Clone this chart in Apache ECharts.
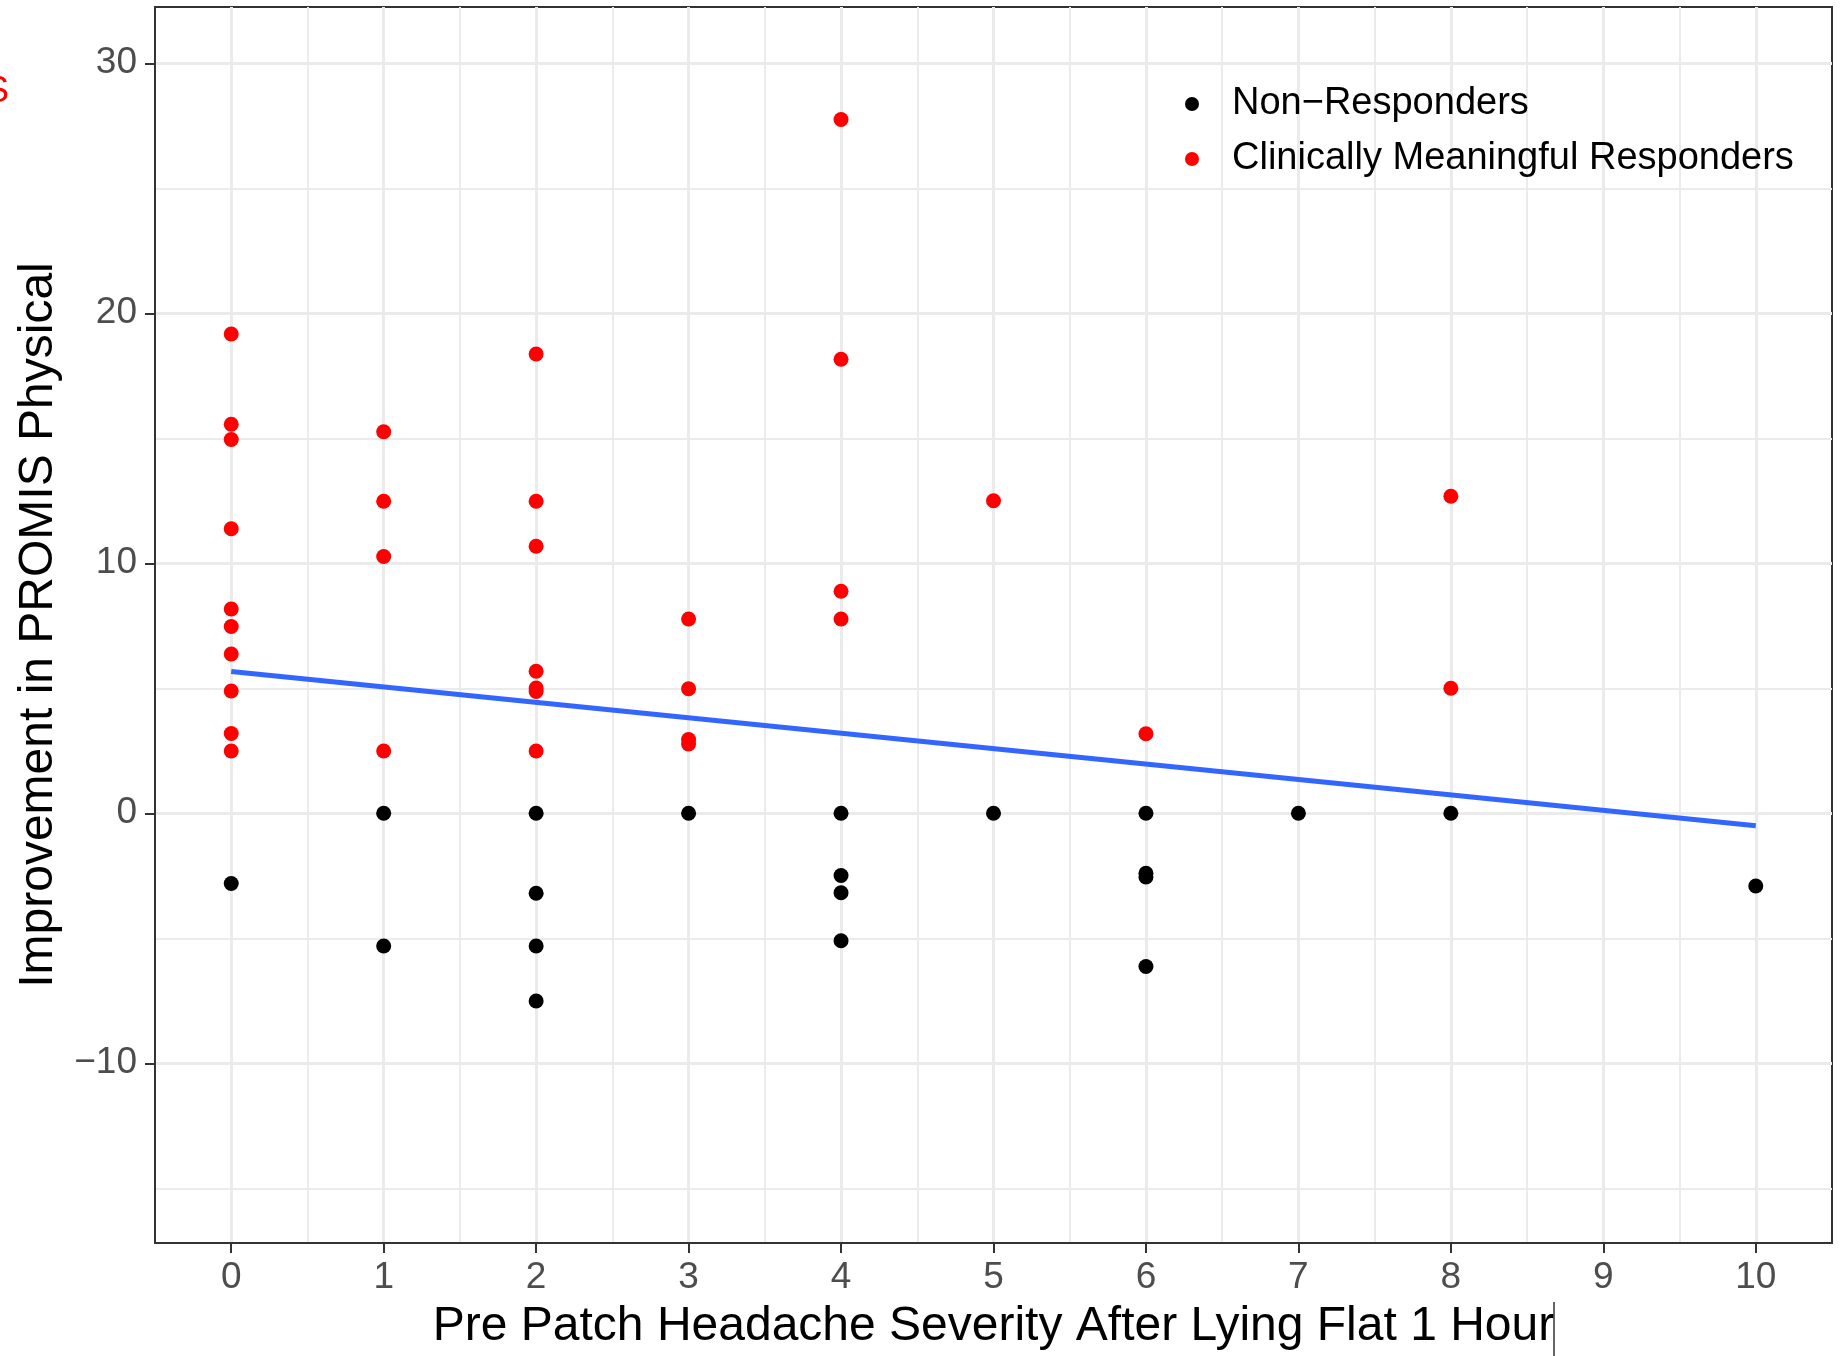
<!DOCTYPE html>
<html>
<head>
<meta charset="utf-8">
<script src="https://cdn.jsdelivr.net/npm/echarts@6/dist/echarts.min.js"></script>
<style>
  html, body { margin: 0; padding: 0; background: #fff; }
  #main { width: 1847px; height: 1356px; }
</style>
</head>
<body>
<div id="main"></div>
<script>
// headache severity (x) vs PROMIS physical improvement (y)
var nonResponders = [
    [0, -2.81],
    [1, 0], [1, -5.31],
    [2, 0], [2, -3.2], [2, -5.31], [2, -7.51],
    [3, 0],
    [4, 0], [4, -2.49], [4, -3.18], [4, -5.1],
    [5, 0],
    [6, 0], [6, -2.4], [6, -2.55], [6, -6.13],
    [7, 0],
    [8, 0],
    [10, -2.91]
];
var responders = [
    [0, 19.17], [0, 15.56], [0, 14.95], [0, 11.38], [0, 8.17], [0, 7.47], [0, 6.37], [0, 4.89], [0, 3.19], [0, 2.49],
    [1, 15.26], [1, 12.48], [1, 10.27], [1, 2.49],
    [2, 18.37], [2, 12.48], [2, 10.68], [2, 5.68], [2, 5.01], [2, 4.87], [2, 2.49],
    [3, 7.77], [3, 4.98], [3, 2.95], [3, 2.77],
    [4, 27.75], [4, 18.16], [4, 8.88], [4, 7.77],
    [5, 12.5],
    [6, 3.18],
    [8, 12.68], [8, 5.0]
];
// fitted line end points
var fitLine = [[0, 5.67], [10, -0.5]];

var xTicks = [0, 1, 2, 3, 4, 5, 6, 7, 8, 9, 10];
var yTicks = [-10, 0, 10, 20, 30];

var myChart = echarts.init(document.getElementById('main'));
var font = "'Liberation Sans', Arial, sans-serif";

option = {
    backgroundColor: '#ffffff',
    animation: false,
    grid: {
        left: 155,
        right: 15,
        top: 7,
        bottom: 102,
        show: true,
        borderColor: '#333333',
        borderWidth: 2,
        backgroundColor: '#ffffff'
    },
    legend: {
        orient: 'vertical',
        left: 1180,
        top: 79,
        icon: 'circle',
        itemWidth: 14,
        itemHeight: 14,
        itemGap: 15,
        data: ['Non\u2212Responders', 'Clinically Meaningful Responders'],
        textStyle: {
            fontFamily: font,
            fontSize: 38,
            color: '#000',
            lineHeight: 40,
            padding: [0, 0, 0, 28]
        }
    },
    xAxis: {
        type: 'value',
        min: -0.5,
        max: 10.5,
        minInterval: 1,
        maxInterval: 1,
        name: 'Pre Patch Headache Severity After Lying Flat 1 Hour',
        nameLocation: 'middle',
        nameGap: 60,
        nameTextStyle: { fontFamily: font, fontSize: 48, color: '#000' },
        axisLine: { show: true, onZero: false, lineStyle: { color: '#333333', width: 2 } },
        axisTick: { show: true, length: 10, customValues: xTicks, lineStyle: { color: '#333333', width: 2 } },
        axisLabel: { customValues: xTicks, margin: 16, fontFamily: font, fontSize: 37, color: '#4D4D4D' },
        splitLine: { show: true, lineStyle: { color: '#EBEBEB', width: 3 } },
        minorTick: { show: false, splitNumber: 2 },
        minorSplitLine: { show: true, lineStyle: { color: '#EBEBEB', width: 2 } }
    },
    yAxis: {
        type: 'value',
        min: -17.19,
        max: 32.25,
        minInterval: 10,
        maxInterval: 10,
        name: 'Improvement in PROMIS Physical',
        nameLocation: 'middle',
        nameGap: 92,
        nameTextStyle: { fontFamily: font, fontSize: 48, color: '#000' },
        axisLine: { show: true, onZero: false, lineStyle: { color: '#333333', width: 2 } },
        axisTick: { show: true, length: 10, customValues: yTicks, lineStyle: { color: '#333333', width: 2 } },
        axisLabel: {
            customValues: yTicks,
            margin: 18,
            fontFamily: font,
            fontSize: 37,
            color: '#4D4D4D',
            formatter: function (v) { return v < 0 ? '\u2212' + Math.abs(v) : String(v); }
        },
        splitLine: { show: true, lineStyle: { color: '#EBEBEB', width: 3 } },
        minorTick: { show: false, splitNumber: 2 },
        minorSplitLine: { show: true, lineStyle: { color: '#EBEBEB', width: 2 } }
    },
    graphic: [
        // cut-off red glyph at the left edge
        {
            type: 'text', left: -15, top: 74, z: 10,
            style: { text: 'S', fontFamily: font, fontSize: 36, fill: '#FF0000' }
        },
        // text cursor after the x title
        {
            type: 'line', z: 10,
            shape: { x1: 1554, y1: 1302, x2: 1554, y2: 1356 },
            style: { stroke: '#333333', lineWidth: 1.5 }
        }
    ],
    series: [
        {
            name: 'Non\u2212Responders',
            type: 'scatter',
            symbol: 'circle',
            symbolSize: 15,
            itemStyle: { color: '#000000', opacity: 1 },
            data: nonResponders,
            z: 3
        },
        {
            name: 'Clinically Meaningful Responders',
            type: 'scatter',
            symbol: 'circle',
            symbolSize: 15,
            itemStyle: { color: '#FF0000', opacity: 1 },
            data: responders,
            z: 3
        },
        {
            name: 'fit',
            type: 'line',
            showSymbol: false,
            lineStyle: { color: '#3366FF', width: 5 },
            itemStyle: { color: '#3366FF' },
            data: fitLine,
            z: 4
        }
    ]
};
myChart.setOption(option);
</script>
</body>
</html>
